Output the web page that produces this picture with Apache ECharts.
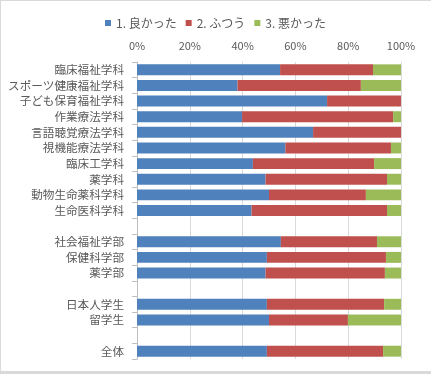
<!DOCTYPE html>
<html><head><meta charset="utf-8">
<script src="https://cdn.jsdelivr.net/npm/echarts@6/dist/echarts.min.js"></script>
<style>html,body{margin:0;padding:0;background:#fff}#c{width:431px;height:374px}</style>
</head><body><div id="c"></div>
<script>
const categories = ['臨床福祉学科','スポーツ健康福祉学科','子ども保育福祉学科','作業療法学科','言語聴覚療法学科','視機能療法学科','臨床工学科','薬学科','動物生命薬科学科','生命医科学科','','社会福祉学部','保健科学部','薬学部','','日本人学生','留学生','','全体'];
const good   = [54.2, 38.1, 72.0, 39.8, 66.7, 56.2, 43.9, 48.7, 50.0, 43.4, null, 54.5, 49.2, 48.7, null, 49.2, 50.0, null, 49.2];
const normal = [35.2, 46.7, 28.0, 57.2, 33.3, 40.0, 45.9, 46.0, 36.7, 51.3, null, 36.4, 45.1, 45.2, null, 44.4, 29.9, null, 44.0];
const bad    = [10.6, 15.2, 0.0, 3.0, 0.0, 3.8, 10.2, 5.3, 13.3, 5.3, null, 9.1, 5.7, 6.1, null, 6.4, 20.1, null, 6.8];
const seriesNames = ['1. 良かった','2. ふつう','3. 悪かった'];
const xTicks = [0, 20, 40, 60, 80, 100];

const chart = echarts.init(document.getElementById('c'), null, {renderer:'canvas'});
const font = '"Noto Sans CJK JP", "Noto Sans", sans-serif';
const colors = ['#4F81BD','#C0504D','#9BBB59'];
const mk = (name, data, i) => ({
  name, type:'bar', stack:'t', data, barWidth:'70%',
  itemStyle:{color:colors[i]}, emphasis:{disabled:true}
});
chart.setOption({
  animation:false,
  textStyle:{fontFamily:font},
  legend:{
    top:12, left:'center', itemWidth:6, itemHeight:6, itemGap:9,
    icon:'rect',
    textStyle:{color:'#595959', fontSize:12, fontFamily:font},
    data:seriesNames
  },
  grid:{left:137, right:30, top:62, bottom:15, containLabel:false},
  xAxis:{
    type:'value', position:'top', min:xTicks[0], max:xTicks[xTicks.length-1], interval:20,
    axisLine:{show:false}, axisTick:{show:false},
    axisLabel:{formatter:'{value}%', color:'#595959', fontSize:11, fontFamily:font, margin:11},
    splitLine:{lineStyle:{color:'#d9d9d9'}}
  },
  yAxis:{
    type:'category', inverse:true, data:categories,
    axisLine:{lineStyle:{color:'#bfbfbf'}},
    axisTick:{show:true, length:5, lineStyle:{color:'#bfbfbf'}},
    axisLabel:{color:'#595959', fontSize:11.6, fontFamily:font, margin:13}
  },
  graphic:[
    {type:'rect', shape:{x:0,y:0,width:431,height:1}, style:{fill:'#d9d9d9'}},
    {type:'rect', shape:{x:0,y:0,width:1,height:374}, style:{fill:'#d9d9d9'}},
    {type:'rect', shape:{x:0,y:371,width:431,height:3}, style:{fill:'#d9d9d9'}}
  ],
  series:[mk(seriesNames[0], good, 0), mk(seriesNames[1], normal, 1), mk(seriesNames[2], bad, 2)]
});
</script></body></html>
